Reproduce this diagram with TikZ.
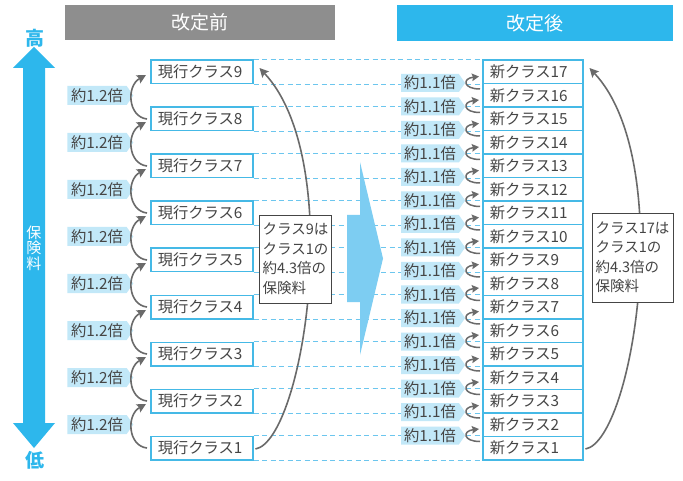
\documentclass[tikz,border=0pt]{standalone}
\usepackage{fontspec}
\setmainfont{Noto Sans CJK JP}
\usetikzlibrary{calc,shapes.symbols,arrows.meta}
\definecolor{headgray}{HTML}{8E8E8E}
\definecolor{headblue}{HTML}{2DB7EC}
\definecolor{boxblue}{HTML}{45B9E6}
\definecolor{labelbg}{HTML}{C2E8F8}
\definecolor{midblue}{HTML}{7DCDF2}
\definecolor{dashblue}{HTML}{6CC6EE}
\definecolor{txt}{HTML}{454545}
\definecolor{agray}{HTML}{6A6A6A}
\begin{document}
\begin{tikzpicture}[x=1pt,y=-1pt,
  lbox/.style={draw=boxblue, line width=1.5pt, fill=white, minimum width=102pt, minimum height=23.5pt,
    inner xsep=7pt, inner ysep=0pt, text=txt, font=\fontsize{15.3}{16}\selectfont, text width=88pt, align=left},
  nbox/.style={lbox, minimum width=100pt, text width=86pt},
  dline/.style={draw=dashblue, line width=1.1pt, dash pattern=on 5pt off 3.5pt},
  lab/.style={shape=signal, signal to=east, signal pointer angle=110, fill=labelbg, text=txt,
    inner xsep=2pt, inner ysep=0pt, minimum height=19pt, font=\fontsize{15.3}{16}\selectfont},
  garrow/.style={draw=agray, line width=1.6pt, -{Stealth[length=9pt,width=9pt,inset=1.5pt]}},
  sarrow/.style={draw=agray, line width=1.5pt, -{Stealth[length=7pt,width=7.5pt,inset=1pt]}},
  tbox/.style={draw=txt, line width=0.8pt, fill=white, text=txt, align=left, inner sep=3pt,
    font=\fontsize{14.5}{19.5}\selectfont},
  head/.style={text=white, inner sep=0pt, font=\fontsize{19}{20}\selectfont}]
\useasboundingbox (0,0) rectangle (683,481);
\fill[white] (0,0) rectangle (683,481);
% headers
\node[head, fill=headgray, minimum width=270pt, minimum height=35pt] (h1) at (200,22.5) {改定前};
\node[head, fill=headblue, minimum width=276pt, minimum height=36pt] (h2) at (535,23) {改定後};
% vertical arrow
\fill[headblue] (23,68)--(13,68)--(34,47)--(55,68)--(45,68)--(45,423)--(55,423)--(34,448)--(13,423)--(23,423)--cycle;
\node[text=headblue, font=\fontsize{19}{19}\selectfont\bfseries, inner sep=0pt] (hi) at (35,38.5) {高};
\node[text=headblue, font=\fontsize{19}{19}\selectfont\bfseries, inner sep=0pt] (lo) at (35,460) {低};
\node[text=white, align=center, inner sep=0pt, font=\fontsize{15}{15.5}\selectfont] (pl) at (34,248) {保\\険\\料};
% boxes
\foreach \k in {1,...,9} {
  \pgfmathsetmacro\yt{459-23.5*(2*\k-1)}
  \node[lbox, anchor=north west] (c\k) at (150,\yt) {現行クラス\k};
}
\foreach \m in {1,...,17} {
  \pgfmathsetmacro\yt{459-23.5*\m}
  \node[nbox, anchor=north west] (n\m) at (482,\yt) {新クラス\m};
}
% dashed guide lines
\foreach \k [evaluate=\k as \m using int(2*\k-1)] in {1,...,9} {
  \draw[dline] (c\k.north east) -- (n\m.north west);
  \draw[dline] (c\k.south east) -- (n\m.south west);
}
% big curves
\draw[garrow] ($(c1.east)+(2,1)$) .. controls +(48,-9) and +(87,93) .. ($(c9.east)+(6,-4)$);
\draw[garrow] ($(n1.east)+(2,1)$) .. controls +(48,-9) and +(87,93) .. ($(n17.east)+(6,-4)$);
% text boxes
\node[tbox, minimum width=69pt, minimum height=88pt] (tl) at (295.5,259) {クラス9は\\クラス1の\\約4.3倍の\\保険料};
\node[tbox, minimum width=81pt, minimum height=89pt] (tr) at (632.5,257.5) {クラス17は\\クラス1の\\約4.3倍の\\保険料};
% middle arrow
\fill[midblue] (347,215)--(360,215)--(360,162)--(383,258.5)--(360,355)--(360,302)--(347,302)--cycle;
% left labels and arrows
\foreach \k [evaluate=\k as \kk using int(\k+1)] in {1,...,8} {
  \node[lab, minimum width=66pt] (l\k) at ($(c\k.west)!0.5!(c\kk.west)+(-53,0)$) {約1.2倍};
  \draw[garrow] ($(c\k.west)+(-3,0)$) .. controls +(-19,-2) and +(-20,11) .. ($(c\kk.west)+(-4,3)$);
}
% right labels and arrows
\foreach \m [evaluate=\m as \mm using int(\m+1)] in {1,...,16} {
  \node[lab, minimum width=64pt, minimum height=18pt] (r\m) at ($(n\m.north west)+(-52,0)$) {約1.1倍};
  \draw[sarrow] ($(n\m.north west)+(-2,6)$) .. controls +(-17,0) and +(-17,2) .. ($(n\mm.south west)+(-3,-8)$);
}
\end{tikzpicture}
\end{document}
